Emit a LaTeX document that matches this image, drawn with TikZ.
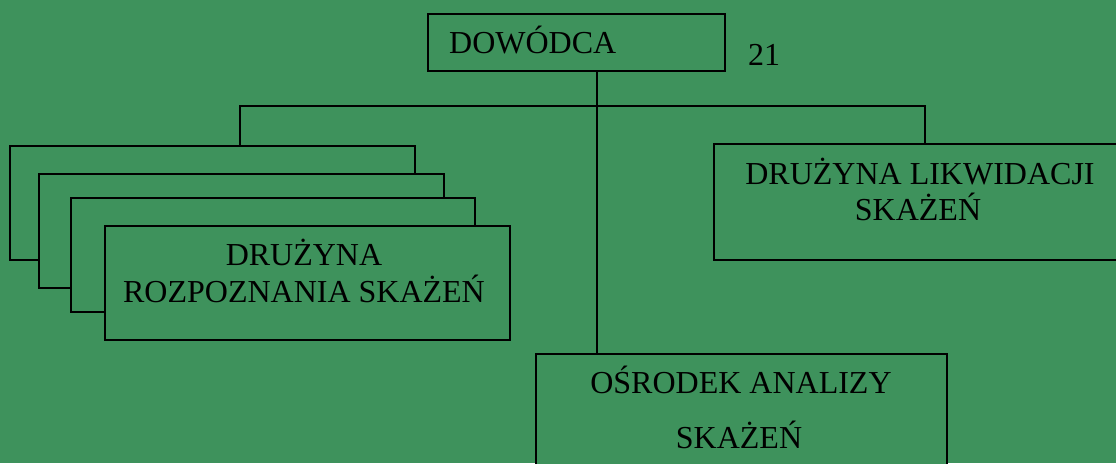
\documentclass[tikz,border=0pt]{standalone}
\usepackage{fontspec}
\setmainfont{Liberation Serif}
\definecolor{bg}{RGB}{62,146,92}
\begin{document}
\begin{tikzpicture}[x=1pt,y=-1pt,
  frame/.style={draw=black,line width=2pt,fill=bg,rectangle,inner sep=0pt},
  lbl/.style={anchor=base,inner sep=0pt,font=\fontsize{32}{36}\selectfont},
  conn/.style={draw=black,line width=2pt}]
\fill[bg] (0,0) rectangle (1116,463);
\useasboundingbox (0,0) rectangle (1116,463);
\clip (0,0) rectangle (1116,463);
% boxes
\node[frame,minimum width=297pt,minimum height=57pt] (dow) at (576.5,42.5) {};
\node[frame,minimum width=405pt,minimum height=114pt] (b1) at (212.5,203) {};
\node[frame,minimum width=405pt,minimum height=114pt] (b2) at (241.5,231) {};
\node[frame,minimum width=404pt,minimum height=114pt] (b3) at (273,255) {};
\node[frame,minimum width=405pt,minimum height=114pt] (b4) at (307.5,283) {};
\node[frame,minimum width=416pt,minimum height=116pt] (lik) at (922,202) {};
\node[frame,minimum width=411pt,minimum height=126pt] (osr) at (741.5,417) {};
% texts
\node[lbl,anchor=base west] (t1) at (449,53) {DOWÓDCA};
\node[lbl,anchor=base west] (num) at (748,65) {21};
\node[lbl] (t2) at (304,265) {DRUŻYNA};
\node[lbl] (t3) at (304,302) {ROZPOZNANIA SKAŻEŃ};
\node[lbl] (t4) at (920,184) {DRUŻYNA LIKWIDACJI};
\node[lbl] (t5) at (918,220) {SKAŻEŃ};
\node[lbl] (t6) at (741,393) {OŚRODEK ANALIZY};
\node[lbl] (t7) at (739,448) {SKAŻEŃ};
% connectors
\coordinate (s) at (597,71);
\coordinate (j) at (597,106);
\coordinate (l) at (240,106);
\coordinate (r) at (925,106);
\draw[conn] (s) -- (s |- osr.north);
\draw[conn] (l |- b1.north) -- (l) -- (r) -- (r |- lik.north);
\end{tikzpicture}
\end{document}
